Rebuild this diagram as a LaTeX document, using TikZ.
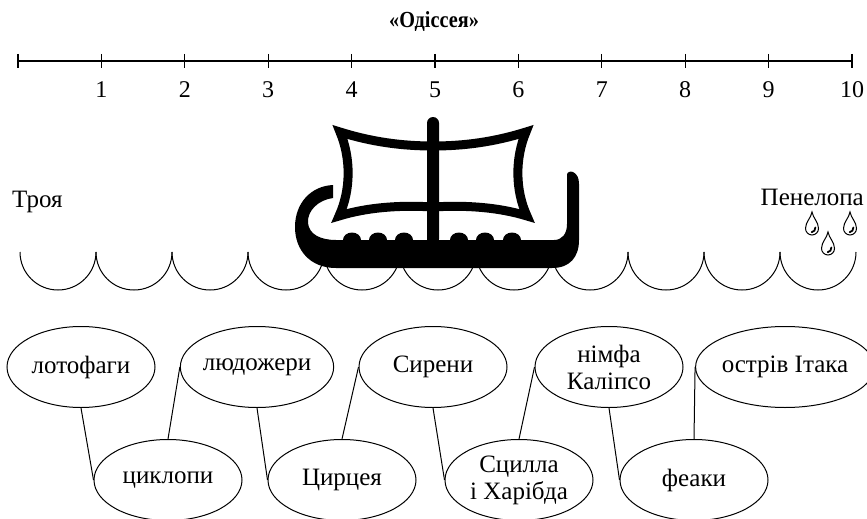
\documentclass[tikz,border=0pt]{standalone}
\usepackage{fontspec}
\setmainfont{Liberation Serif}
\usepackage{tikz}
\usetikzlibrary{shapes.geometric}
\newcommand{\marktick}[1]{\draw[rule] (18+83.4*#1,54) -- (18+83.4*#1,68);}
\newcommand{\marknum}[1]{\node[num] (n#1) at (18+83.4*#1,90) {#1};}
\newcommand{\wavearc}[1]{\draw[sea] (20+76*#1,252) .. controls (20+76*#1,273) and (37+76*#1,290) .. (58+76*#1,290) .. controls (79+76*#1,290) and (96+76*#1,273) .. (96+76*#1,252);}
\newcommand{\tear}[2]{\draw[sea] (#1,#2) .. controls (#1-1,#2+6) and (#1-6.5,#2+10) .. (#1-6.5,#2+16.5) .. controls (#1-6.5,#2+20) and (#1-3.6,#2+23) .. (#1,#2+23) .. controls (#1+3.6,#2+23) and (#1+6.5,#2+20) .. (#1+6.5,#2+16.5) .. controls (#1+6.5,#2+10) and (#1+1,#2+6) .. cycle;
  \draw[line width=1.8pt,line cap=round] (#1+3.4,#2+15.5) .. controls (#1+3.4,#2+18) and (#1+2,#2+19.8) .. (#1-0.3,#2+20.2);}

\tikzset{
  rule/.style={line width=1.1pt},
  sea/.style={line width=1pt},
  sail/.style={line width=9pt, miter limit=20},
  link/.style={line width=1pt},
  isle/.style={draw, ellipse, line width=1pt, minimum width=148pt, minimum height=81pt,
    inner sep=0pt, align=center, font=\fontsize{25}{27}\selectfont},
  num/.style={inner sep=0pt, font=\fontsize{24}{26}\selectfont},
  place/.style={inner sep=0pt, font=\fontsize{25}{27}\selectfont},
}

\begin{document}
\begin{tikzpicture}[x=1pt,y=-1pt]
    \useasboundingbox (0,0) rectangle (867,519);
    % title and scale
    \node[inner sep=0pt, xscale=0.88, font=\bfseries\fontsize{23}{25}\selectfont] (title) at (434,22) {«Одіссея»};
    \coordinate (s0) at (18,61);
    \coordinate (s10) at (852,61);
    \draw[rule] (s0) -- (s10);
    \marktick{0}
    \marktick{1}
    \marktick{2}
    \marktick{3}
    \marktick{4}
    \marktick{5}
    \marktick{6}
    \marktick{7}
    \marktick{8}
    \marktick{9}
    \marktick{10}
    \marknum{1}
    \marknum{2}
    \marknum{3}
    \marknum{4}
    \marknum{5}
    \marknum{6}
    \marknum{7}
    \marknum{8}
    \marknum{9}
    \marknum{10}
    % sea
    \wavearc{0}
    \wavearc{1}
    \wavearc{2}
    \wavearc{3}
    \wavearc{4}
    \wavearc{5}
    \wavearc{6}
    \wavearc{7}
    \wavearc{8}
    \wavearc{9}
    \wavearc{10}
    % ship
    \fill (333,185) -- (333,198)
      .. controls (318,200) and (307,211) .. (308,223)
      .. controls (309,234) and (320,240) .. (336,240)
      -- (554,240)
      .. controls (562,240) and (567,234) .. (567,224)
      -- (567,175)
      .. controls (567,172) and (570,171) .. (573,172)
      .. controls (577,174) and (579,178) .. (579,184)
      -- (579,240)
      .. controls (579,257) and (570,268) .. (552,268)
      -- (336,268)
      .. controls (310,268) and (295,250) .. (295,227)
      .. controls (295,203) and (311,186) .. (333,185) -- cycle;
    \fill (352,240) ellipse [x radius=9pt, y radius=7.5pt];
    \fill (378,240) ellipse [x radius=9pt, y radius=7.5pt];
    \fill (404,240) ellipse [x radius=9pt, y radius=7.5pt];
    \fill (459,240) ellipse [x radius=9pt, y radius=7.5pt];
    \fill (485,240) ellipse [x radius=9pt, y radius=7.5pt];
    \fill (512,240) ellipse [x radius=9pt, y radius=7.5pt];
    \draw[sail] (340,132) .. controls (372,142) and (402,146) .. (433,146) -- (433,207)
      .. controls (402,205) and (368,207) .. (339,216) .. controls (351,190) and (351,158) .. cycle;
    \draw[sail] (526,132) .. controls (494,142) and (464,146) .. (433,146) -- (433,207)
      .. controls (464,205) and (498,207) .. (527,216) .. controls (515,190) and (515,158) .. cycle;
    \fill[rounded corners=6pt] (427,245) -- (427,117) -- (439,117) -- (439,245) -- cycle;
    % start and end
    \node[place, anchor=base west] (troya) at (12,207) {Троя};
    \node[place, anchor=base east] (penelopa) at (864,205) {Пенелопа};
    \tear{812}{212}
    \tear{850}{212}
    \tear{828}{232}
    % stops on the way
    \node[isle] (lotofagy) at (81,367) {лотофаги};
    \node[isle] (lyudozhery) at (257,367) {людожери};
    \node[isle] (syreny) at (433,367) {Сирени};
    \node[isle] (kalipso) at (609,367) {німфа\\Каліпсо};
    \node[isle] (itaka) at (785,367) {острів Ітака};
    \node[isle] (tsyklopy) at (168,480) {циклопи};
    \node[isle] (tsyrtseya) at (342,480) {Цирцея};
    \node[isle] (stsylla) at (519,480) {Сцилла\\і Харібда};
    \node[isle] (feaky) at (694,480) {феаки};
    \draw[link] (lotofagy.south) -- (tsyklopy.west);
    \draw[link] (tsyklopy.north) -- (lyudozhery.west);
    \draw[link] (lyudozhery.south) -- (tsyrtseya.west);
    \draw[link] (tsyrtseya.north) -- (syreny.west);
    \draw[link] (syreny.south) -- (stsylla.west);
    \draw[link] (stsylla.north) -- (kalipso.west);
    \draw[link] (kalipso.south) -- (feaky.west);
    \draw[link] (feaky.north) -- (itaka.west);
\end{tikzpicture}
\end{document}
